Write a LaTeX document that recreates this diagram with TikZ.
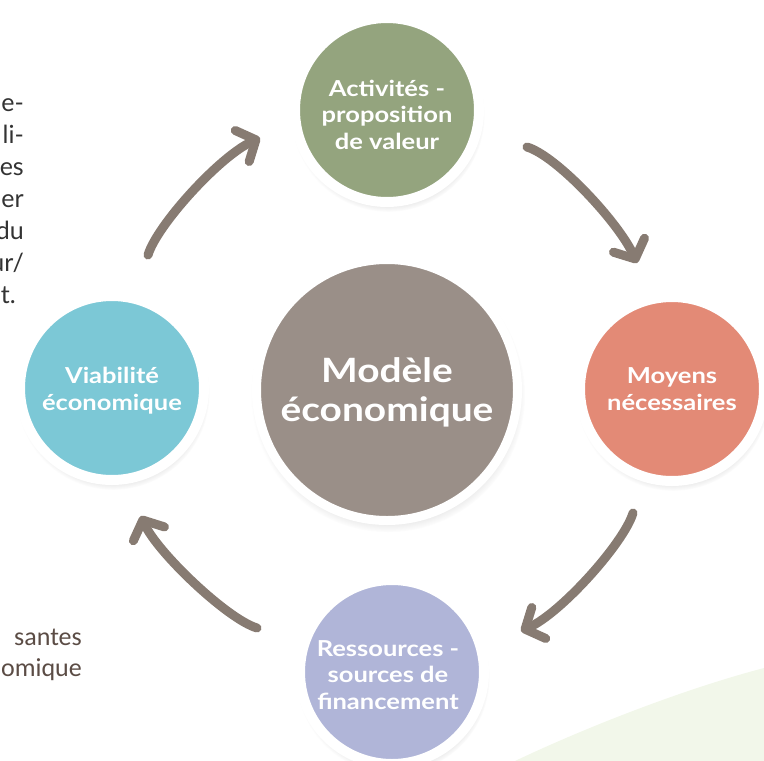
\documentclass[tikz,border=0pt]{standalone}
\usepackage{fontspec}
\setmainfont{Lato}[FakeStretch=1.16]
\newfontfamily\parafont{Lato}
\newfontfamily\condfont{Carlito}
\usetikzlibrary{arrows.meta,shadows,calc}
\definecolor{cgreen}{HTML}{94A47E}
\definecolor{ccyan}{HTML}{7CC8D6}
\definecolor{cgrey}{HTML}{9A8F88}
\definecolor{csalmon}{HTML}{E38A76}
\definecolor{clav}{HTML}{B0B5D8}
\definecolor{carrow}{HTML}{877B72}
\definecolor{cbg}{HTML}{F2F7EA}
\definecolor{cpara}{HTML}{333333}
\definecolor{cbrown}{HTML}{5B4C45}
\begin{document}
\begin{tikzpicture}[x=1pt,y=-1pt,
  bubble/.style={circle, draw=white, line width=10pt, inner sep=0pt, minimum size=184pt,
    circular drop shadow={shadow scale=1.05, shadow xshift=1pt, shadow yshift=-5pt, opacity=0.35}},
  hub/.style={bubble, line width=9pt, minimum size=261pt},
  btext/.style={inner sep=0pt, text=white, align=center, font=\bfseries\fontsize{22}{26.5}\selectfont},
  hubtext/.style={btext, font=\bfseries\fontsize{33.5}{39}\selectfont},
  flow/.style={draw=carrow, line width=9pt, line cap=round, -{Straight Barb[length=15pt,width=34pt,round]}},
  para/.style={anchor=base east, inner sep=0pt, text=cpara, font=\parafont\fontsize{25}{30}\selectfont},
  cond/.style={anchor=base east, inner sep=0pt, text=cbrown, font=\condfont\fontsize{26}{30}\selectfont}]
\useasboundingbox (0,0) rectangle (764,761);
\clip (0,0) rectangle (764,761);
\fill[cbg] (515,761) .. controls (580,730) and (680,690) .. (764,668) -- (764,761) -- cycle;
% circles
\node[bubble, fill=cgreen] (act) at (387,110) {};
\node[bubble, fill=csalmon] (moy) at (672,389) {};
\node[bubble, fill=clav] (res) at (392,672) {};
\node[bubble, fill=ccyan] (via) at (112,388) {};
\node[hub, fill=cgrey] (mod) at (387,390) {};
% labels
\node[btext] (act-t) at ($(act)+(0,4.5)$) {Activités -\\proposition\\de valeur};
\node[btext] (moy-t) at ($(moy)+(0,0)$) {Moyens\\nécessaires};
\node[btext] (res-t) at ($(res)+(-4,3)$) {Ressources -\\sources de\\financement};
\node[btext] (via-t) at ($(via)+(0,2.5)$) {Viabilité\\économique};
\node[hubtext] (mod-t) at ($(mod)+(0,2)$) {Modèle\\économique};
% arrows
\coordinate (a1s) at (527,147); \coordinate (a1e) at (637,263);
\coordinate (a2s) at (633,513); \coordinate (a2e) at (521,631);
\coordinate (a3s) at (257,628); \coordinate (a3e) at (141,516);
\coordinate (a4s) at (148,255); \coordinate (a4e) at (260,138);
\draw[flow] (a1s) .. controls (557,156) and (619,223) .. (a1e);
\draw[flow] (a2s) .. controls (624,543) and (561,613) .. (a2e);
\draw[flow] (a3s) .. controls (227,619) and (157,552) .. (a3e);
\draw[flow] (a4s) .. controls (157,225) and (220,156) .. (a4e);
% clipped side texts
\node[para] (p1) at (24,111) {e-};
\node[para] (p2) at (24,143) {li-};
\node[para] (p3) at (24,175) {es};
\node[para] (p4) at (24,207) {er};
\node[para] (p5) at (24,239) {du};
\node[para] (p6) at (24,271) {ur/};
\node[para] (p7) at (16,303) {t.};
\node[cond] (c1) at (82,645) {santes};
\node[cond] (c2) at (82,676) {omique};
\end{tikzpicture}
\end{document}
